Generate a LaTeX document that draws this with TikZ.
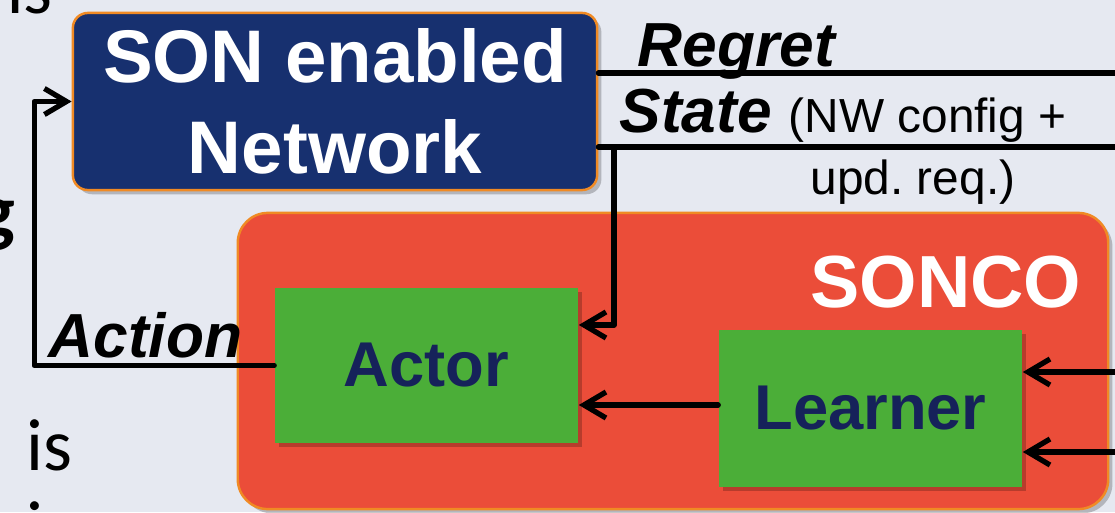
\documentclass[tikz,border=0pt]{standalone}
\usepackage{fontspec}
\setmainfont{Liberation Sans}
\newfontfamily\bodyfont{Carlito}
\usetikzlibrary{arrows.meta,shadows}
\definecolor{bgcol}{HTML}{E6E9F1}
\definecolor{sonblue}{HTML}{17306F}
\definecolor{edgeorange}{HTML}{F08A24}
\definecolor{soncored}{HTML}{EB4D39}
\definecolor{boxgreen}{HTML}{4BAE38}
\definecolor{textnavy}{HTML}{16225A}
\tikzset{
  softshadow/.style={general shadow={shadow xshift=1.2pt,shadow yshift=-1.2pt,fill=black,opacity=0.22}},
  sonbox/.style={rectangle,rounded corners=0.15cm,fill=sonblue,draw=edgeorange,line width=0.7pt,
    minimum width=5.24cm,minimum height=1.77cm,inner sep=0pt,text=white,align=center,
    font=\fontsize{21.2}{26}\selectfont\bfseries,softshadow},
  soncobox/.style={rectangle,rounded corners=0.3cm,fill=soncored,draw=edgeorange,line width=0.7pt,
    minimum width=8.70cm,minimum height=2.96cm,inner sep=0pt,softshadow},
  greenbox/.style={rectangle,fill=boxgreen,minimum width=3.03cm,minimum height=1.55cm,inner sep=0pt,
    text=textnavy,font=\fontsize{18}{20}\selectfont\bfseries,softshadow},
  biglbl/.style={inner sep=0pt,text=white,font=\fontsize{21}{24}\selectfont\bfseries},
  flowlbl/.style={inner sep=0pt,font=\fontsize{17.7}{20}\selectfont\bfseries\itshape},
  smalllbl/.style={inner sep=0pt,font=\fontsize{13.6}{16}\selectfont},
  bodytxt/.style={inner sep=0pt,font=\bodyfont\fontsize{21}{25}\selectfont},
  conn/.style={line width=1.5pt,line cap=round,line join=round},
  arr/.style={conn,-{Straight Barb[length=0.22cm,width=0.26cm,line width=1.5pt]}},
}
\begin{document}
\begin{tikzpicture}[x=0.01cm,y=-0.01cm]
\useasboundingbox (0,0) rectangle (1115,512);
\fill[bgcol] (0,0) rectangle (1115,512);
\begin{scope}
\clip (0,0) rectangle (1115,512);
% slide body text fragments at the left edge
\node[bodytxt,anchor=base east] (frag1) at (53,13) {ns};
\node[bodytxt,anchor=base east,font=\bodyfont\fontsize{22}{27}\selectfont\bfseries] (frag2) at (16,237) {g};
\node[bodytxt,anchor=base west] (frag3) at (26,470) {is};
\node[bodytxt,anchor=base west] (frag4) at (26,552) {i};

% boxes
\node[sonbox] (SON) at (335,101.5) {SON enabled\\Network};
\node[soncobox] (SONCO) at (673,361) {};
\node[biglbl,anchor=base east] (soncolbl) at (1082,307) {SONCO};
\node[greenbox] (Actor) at (426.5,365.5) {Actor};
\node[greenbox,minimum height=1.57cm] (Learner) at (870.5,408.5) {Learner};

% labels
\node[flowlbl,anchor=base west] (regret) at (637,66) {Regret};
\node[flowlbl,anchor=base west] (state) at (619,132) {State};
\node[smalllbl,anchor=base west] (nw) at (788,132) {(NW config +};
\node[smalllbl,anchor=base] (upd) at (913,194) {upd.\ req.)};
\node[flowlbl,anchor=base west] (action) at (48,357) {Action};

% connector end points
\coordinate (regretOut) at (1130,73);
\coordinate (stateOut) at (1130,147);
\coordinate (stateBr) at (614,147);
\coordinate (inA) at (1130,372);
\coordinate (inB) at (1130,452);

% connectors
\draw[conn] (regretOut -| SON.east) -- (regretOut);
\draw[conn] (stateOut -| SON.east) -- (stateOut);
\draw[arr] (stateBr) |- ([yshift=0.405cm]Actor.east);
\draw[arr] (Learner.west |- 0,405) -- (Actor.east |- 0,405);
\draw[arr] (inA) -- (Learner.east |- inA);
\draw[arr] (inB) -- (Learner.east |- inB);
\draw[arr] (Actor.west) -- ++(-240,0) |- (SON.west);
\end{scope}
\end{tikzpicture}
\end{document}
